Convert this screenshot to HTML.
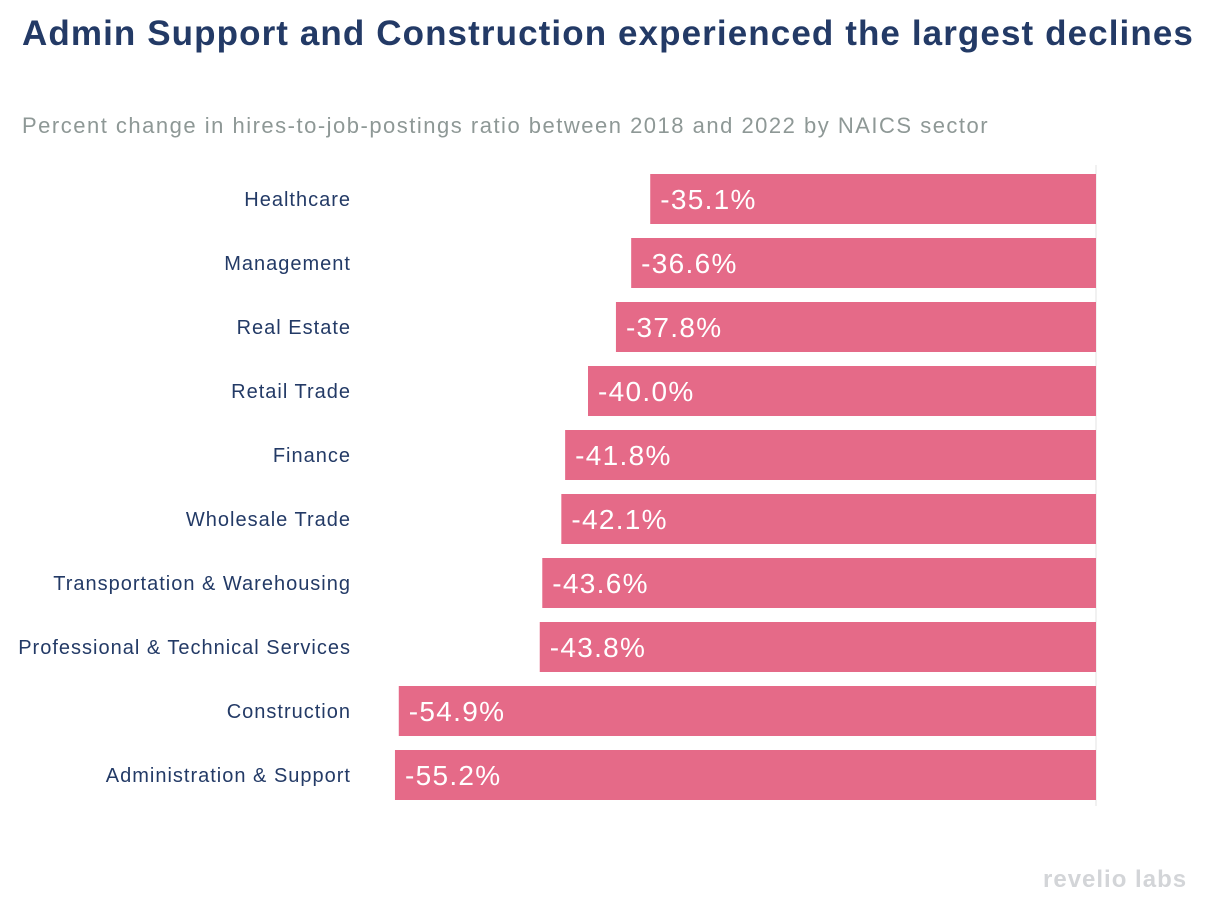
<!DOCTYPE html>
<html><head><meta charset="utf-8"><style>
body{margin:0;width:1208px;height:910px;background:#fff;font-family:"Liberation Sans",sans-serif;position:relative;overflow:hidden}
#title{position:absolute;left:22px;top:14px;font-size:35px;font-weight:bold;color:#233a66;letter-spacing:1.1px;white-space:nowrap}
#sub{position:absolute;left:22px;top:113px;font-size:22px;color:#8e9896;letter-spacing:1.5px;white-space:nowrap}
#logo{position:absolute;left:1043px;top:866px;font-size:24px;font-weight:bold;color:#d3d5d8;letter-spacing:1px;white-space:nowrap}
</style></head><body>
<div id="title">Admin Support and Construction experienced the largest declines</div>
<div id="sub">Percent change in hires-to-job-postings ratio between 2018 and 2022 by NAICS sector</div>
<svg id="chart" width="1208" height="910" style="position:absolute;left:0;top:0"></svg>
<div id="logo">revelio labs</div>
<script>
const categories=["Healthcare","Management","Real Estate","Retail Trade","Finance","Wholesale Trade","Transportation & Warehousing","Professional & Technical Services","Construction","Administration & Support"];
const values=[-35.1,-36.6,-37.8,-40.0,-41.8,-42.1,-43.6,-43.8,-54.9,-55.2];
const NS="http://www.w3.org/2000/svg";
const svg=document.getElementById('chart');
const x0=1096,pxPer=12.7,top0=174,pitch=64,bh=50;
const x=v=>x0+v*pxPer;
const y=i=>top0+i*pitch;
const ax=document.createElementNS(NS,'line');


ax.setAttribute('x1',x0);ax.setAttribute('x2',x0);ax.setAttribute('y1',165);ax.setAttribute('y2',806);
ax.setAttribute('stroke','#e3e3e3');ax.setAttribute('stroke-width','1');
svg.appendChild(ax);
categories.forEach((c,i)=>{
 const r=document.createElementNS(NS,'rect');
 
 
 r.setAttribute('x',x(values[i]));r.setAttribute('y',y(i));r.setAttribute('width',x0-x(values[i]));r.setAttribute('height',bh);
 r.setAttribute('fill','#e56a88');
 svg.appendChild(r);
 const t=document.createElementNS(NS,'text');
 
 
 t.setAttribute('x',x(values[i])+10);t.setAttribute('y',y(i)+bh/2+10);
 t.setAttribute('fill','#fff');t.setAttribute('font-size','28');t.setAttribute('letter-spacing','1.3');
 t.textContent=values[i].toFixed(1)+'%';
 svg.appendChild(t);
 const l=document.createElementNS(NS,'text');
 
 
 l.setAttribute('x',351);l.setAttribute('y',y(i)+bh/2+7);
 l.setAttribute('text-anchor','end');l.setAttribute('fill','#233a66');l.setAttribute('font-size','20');l.setAttribute('letter-spacing','1');
 l.textContent=c;
 svg.appendChild(l);
});
</script>
</body></html>
